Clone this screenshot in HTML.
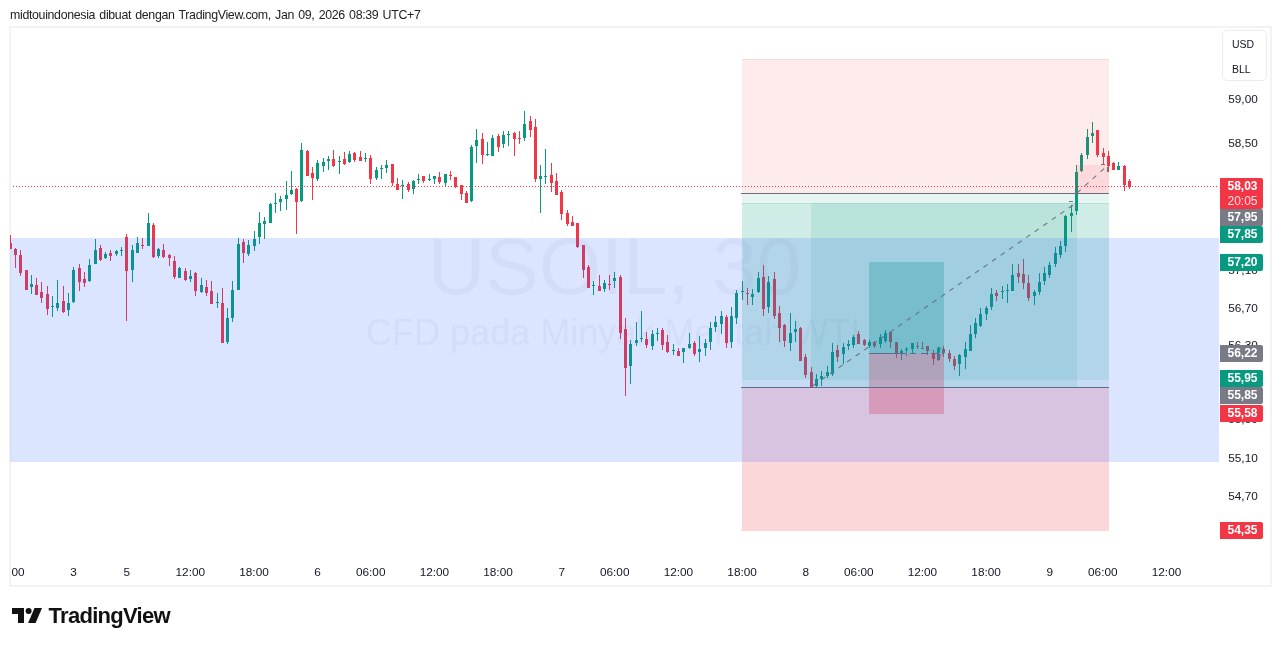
<!DOCTYPE html>
<html lang="id"><head><meta charset="utf-8"><title>USOIL 30 - TradingView</title>
<style>
html,body{margin:0;padding:0;background:#fff;}
body{width:1281px;height:646px;position:relative;overflow:hidden;font-family:"Liberation Sans",sans-serif;color:#131722;}
#hdr{position:absolute;left:10px;top:7px;font-size:12.4px;letter-spacing:-0.34px;word-spacing:1.1px;line-height:16px;white-space:nowrap;color:#222;}
#frame{position:absolute;left:9px;top:26px;width:1259px;height:557px;border:2px solid #f3f3f3;}
svg{position:absolute;left:0;top:0;}
.pl{position:absolute;left:1221.5px;width:43px;text-align:center;font-size:11.8px;line-height:14px;color:#131722;white-space:nowrap;}
.tag{position:absolute;left:1220px;width:41px;padding-left:2px;height:17px;line-height:17px;text-align:center;font-size:12px;font-weight:bold;color:#fff;border-radius:0 2px 2px 0;white-space:nowrap;}
.tl{position:absolute;top:565px;width:60px;margin-left:-30.7px;text-align:center;font-size:11.8px;line-height:14px;color:#131722;white-space:nowrap;}
#cur{position:absolute;left:1222px;top:30px;width:34px;padding-left:9px;height:49px;border:1px solid #ececec;border-radius:5px;font-size:10.5px;text-align:left;color:#131722;}
#cur div{height:25px;line-height:26px;}
#logo{position:absolute;left:48.6px;top:603.2px;font-size:22px;line-height:26px;font-weight:bold;color:#111;letter-spacing:-0.72px;white-space:nowrap;}
</style></head><body>
<div id="hdr">midtouindonesia dibuat dengan TradingView.com, Jan 09, 2026 08:39 UTC+7</div>
<div id="frame"></div>
<svg width="1281" height="646" viewBox="0 0 1281 646" shape-rendering="crispEdges">
<g font-family="Liberation Sans, sans-serif" fill="#787b86" fill-opacity="0.065" text-anchor="middle" shape-rendering="auto">
<text x="614.3" y="293.5" font-size="80">USOIL, 30</text>
<text x="613.2" y="344.5" font-size="36">CFD pada Minyak Mentah WTI</text>
</g>

<g id="candles">
<rect x="10" y="235" width="1" height="14" fill="#f23645"/>
<rect x="10" y="243" width="2" height="6" fill="#f23645"/>
<rect x="15" y="248" width="1" height="20" fill="#f23645"/>
<rect x="14" y="249" width="3" height="6" fill="#f23645"/>
<rect x="20" y="250" width="1" height="26" fill="#f23645"/>
<rect x="19" y="255" width="3" height="18" fill="#f23645"/>
<rect x="26" y="270" width="1" height="20" fill="#f23645"/>
<rect x="25" y="270" width="3" height="20" fill="#f23645"/>
<rect x="31" y="275" width="1" height="19" fill="#089981"/>
<rect x="30" y="284" width="3" height="3" fill="#089981"/>
<rect x="36" y="278" width="1" height="17" fill="#f23645"/>
<rect x="35" y="285" width="3" height="10" fill="#f23645"/>
<rect x="41" y="282" width="1" height="21" fill="#f23645"/>
<rect x="40" y="292" width="3" height="6" fill="#f23645"/>
<rect x="47" y="286" width="1" height="29" fill="#f23645"/>
<rect x="46" y="294" width="3" height="15" fill="#f23645"/>
<rect x="52" y="296" width="1" height="21" fill="#089981"/>
<rect x="51" y="306" width="3" height="1" fill="#089981"/>
<rect x="57" y="280" width="1" height="31" fill="#089981"/>
<rect x="56" y="303" width="3" height="5" fill="#089981"/>
<rect x="63" y="286" width="1" height="27" fill="#f23645"/>
<rect x="62" y="301" width="3" height="11" fill="#f23645"/>
<rect x="68" y="293" width="1" height="23" fill="#089981"/>
<rect x="67" y="303" width="3" height="7" fill="#089981"/>
<rect x="73" y="267" width="1" height="36" fill="#089981"/>
<rect x="72" y="270" width="3" height="32" fill="#089981"/>
<rect x="79" y="264" width="1" height="27" fill="#f23645"/>
<rect x="78" y="268" width="3" height="14" fill="#f23645"/>
<rect x="84" y="272" width="1" height="15" fill="#f23645"/>
<rect x="83" y="279" width="3" height="4" fill="#f23645"/>
<rect x="89" y="259" width="1" height="23" fill="#089981"/>
<rect x="88" y="265" width="3" height="16" fill="#089981"/>
<rect x="95" y="239" width="1" height="25" fill="#089981"/>
<rect x="94" y="250" width="3" height="14" fill="#089981"/>
<rect x="100" y="245" width="1" height="16" fill="#f23645"/>
<rect x="99" y="248" width="3" height="12" fill="#f23645"/>
<rect x="105" y="252" width="1" height="7" fill="#089981"/>
<rect x="104" y="254" width="3" height="4" fill="#089981"/>
<rect x="110" y="250" width="1" height="11" fill="#f23645"/>
<rect x="109" y="253" width="3" height="3" fill="#f23645"/>
<rect x="116" y="250" width="1" height="6" fill="#089981"/>
<rect x="115" y="251" width="3" height="3" fill="#089981"/>
<rect x="121" y="247" width="1" height="9" fill="#089981"/>
<rect x="120" y="250" width="3" height="1" fill="#089981"/>
<rect x="126" y="234" width="1" height="87" fill="#f23645"/>
<rect x="125" y="237" width="3" height="34" fill="#f23645"/>
<rect x="132" y="245" width="1" height="37" fill="#089981"/>
<rect x="131" y="250" width="3" height="20" fill="#089981"/>
<rect x="137" y="237" width="1" height="16" fill="#089981"/>
<rect x="136" y="243" width="3" height="10" fill="#089981"/>
<rect x="142" y="238" width="1" height="11" fill="#f23645"/>
<rect x="141" y="245" width="3" height="1" fill="#f23645"/>
<rect x="148" y="213" width="1" height="33" fill="#089981"/>
<rect x="147" y="223" width="3" height="23" fill="#089981"/>
<rect x="153" y="223" width="1" height="35" fill="#f23645"/>
<rect x="152" y="225" width="3" height="32" fill="#f23645"/>
<rect x="158" y="248" width="1" height="10" fill="#089981"/>
<rect x="157" y="249" width="3" height="7" fill="#089981"/>
<rect x="163" y="244" width="1" height="14" fill="#f23645"/>
<rect x="162" y="250" width="3" height="7" fill="#f23645"/>
<rect x="169" y="254" width="1" height="12" fill="#f23645"/>
<rect x="168" y="255" width="3" height="3" fill="#f23645"/>
<rect x="174" y="256" width="1" height="23" fill="#f23645"/>
<rect x="173" y="261" width="3" height="16" fill="#f23645"/>
<rect x="179" y="267" width="1" height="11" fill="#089981"/>
<rect x="178" y="268" width="3" height="10" fill="#089981"/>
<rect x="185" y="268" width="1" height="13" fill="#f23645"/>
<rect x="184" y="271" width="3" height="9" fill="#f23645"/>
<rect x="190" y="270" width="1" height="12" fill="#089981"/>
<rect x="189" y="276" width="3" height="3" fill="#089981"/>
<rect x="195" y="272" width="1" height="24" fill="#f23645"/>
<rect x="194" y="273" width="3" height="18" fill="#f23645"/>
<rect x="201" y="278" width="1" height="15" fill="#089981"/>
<rect x="200" y="285" width="3" height="7" fill="#089981"/>
<rect x="206" y="280" width="1" height="16" fill="#f23645"/>
<rect x="205" y="287" width="3" height="6" fill="#f23645"/>
<rect x="211" y="281" width="1" height="23" fill="#f23645"/>
<rect x="210" y="291" width="3" height="13" fill="#f23645"/>
<rect x="217" y="293" width="1" height="15" fill="#089981"/>
<rect x="216" y="302" width="3" height="1" fill="#089981"/>
<rect x="222" y="288" width="1" height="55" fill="#f23645"/>
<rect x="221" y="303" width="3" height="40" fill="#f23645"/>
<rect x="227" y="308" width="1" height="36" fill="#089981"/>
<rect x="226" y="318" width="3" height="24" fill="#089981"/>
<rect x="232" y="281" width="1" height="41" fill="#089981"/>
<rect x="231" y="290" width="3" height="28" fill="#089981"/>
<rect x="238" y="238" width="1" height="52" fill="#089981"/>
<rect x="237" y="244" width="3" height="46" fill="#089981"/>
<rect x="243" y="239" width="1" height="24" fill="#f23645"/>
<rect x="242" y="242" width="3" height="11" fill="#f23645"/>
<rect x="248" y="240" width="1" height="16" fill="#089981"/>
<rect x="247" y="245" width="3" height="9" fill="#089981"/>
<rect x="254" y="231" width="1" height="20" fill="#089981"/>
<rect x="253" y="239" width="3" height="7" fill="#089981"/>
<rect x="259" y="212" width="1" height="32" fill="#089981"/>
<rect x="258" y="223" width="3" height="14" fill="#089981"/>
<rect x="264" y="217" width="1" height="22" fill="#089981"/>
<rect x="263" y="221" width="3" height="3" fill="#089981"/>
<rect x="270" y="203" width="1" height="20" fill="#089981"/>
<rect x="269" y="204" width="3" height="19" fill="#089981"/>
<rect x="275" y="193" width="1" height="20" fill="#089981"/>
<rect x="274" y="203" width="3" height="1" fill="#089981"/>
<rect x="280" y="196" width="1" height="15" fill="#089981"/>
<rect x="279" y="199" width="3" height="3" fill="#089981"/>
<rect x="286" y="181" width="1" height="29" fill="#089981"/>
<rect x="285" y="195" width="3" height="4" fill="#089981"/>
<rect x="291" y="171" width="1" height="24" fill="#089981"/>
<rect x="290" y="190" width="3" height="4" fill="#089981"/>
<rect x="296" y="188" width="1" height="46" fill="#f23645"/>
<rect x="295" y="189" width="3" height="13" fill="#f23645"/>
<rect x="301" y="143" width="1" height="59" fill="#089981"/>
<rect x="300" y="150" width="3" height="51" fill="#089981"/>
<rect x="307" y="150" width="1" height="26" fill="#f23645"/>
<rect x="306" y="151" width="3" height="25" fill="#f23645"/>
<rect x="312" y="167" width="1" height="33" fill="#f23645"/>
<rect x="311" y="173" width="3" height="5" fill="#f23645"/>
<rect x="317" y="160" width="1" height="21" fill="#089981"/>
<rect x="316" y="163" width="3" height="16" fill="#089981"/>
<rect x="323" y="158" width="1" height="14" fill="#089981"/>
<rect x="322" y="162" width="3" height="4" fill="#089981"/>
<rect x="328" y="156" width="1" height="14" fill="#089981"/>
<rect x="327" y="159" width="3" height="2" fill="#089981"/>
<rect x="333" y="150" width="1" height="17" fill="#f23645"/>
<rect x="332" y="159" width="3" height="7" fill="#f23645"/>
<rect x="339" y="156" width="1" height="18" fill="#089981"/>
<rect x="338" y="161" width="3" height="1" fill="#089981"/>
<rect x="344" y="152" width="1" height="13" fill="#f23645"/>
<rect x="343" y="159" width="3" height="5" fill="#f23645"/>
<rect x="349" y="151" width="1" height="12" fill="#089981"/>
<rect x="348" y="154" width="3" height="8" fill="#089981"/>
<rect x="354" y="152" width="1" height="10" fill="#f23645"/>
<rect x="353" y="153" width="3" height="7" fill="#f23645"/>
<rect x="360" y="151" width="1" height="10" fill="#f23645"/>
<rect x="359" y="157" width="3" height="4" fill="#f23645"/>
<rect x="365" y="153" width="1" height="9" fill="#089981"/>
<rect x="364" y="158" width="3" height="1" fill="#089981"/>
<rect x="370" y="155" width="1" height="29" fill="#f23645"/>
<rect x="369" y="158" width="3" height="21" fill="#f23645"/>
<rect x="376" y="167" width="1" height="13" fill="#089981"/>
<rect x="375" y="170" width="3" height="8" fill="#089981"/>
<rect x="381" y="165" width="1" height="14" fill="#089981"/>
<rect x="380" y="168" width="3" height="1" fill="#089981"/>
<rect x="386" y="160" width="1" height="13" fill="#089981"/>
<rect x="385" y="165" width="3" height="3" fill="#089981"/>
<rect x="392" y="164" width="1" height="22" fill="#f23645"/>
<rect x="391" y="164" width="3" height="19" fill="#f23645"/>
<rect x="397" y="178" width="1" height="12" fill="#f23645"/>
<rect x="396" y="184" width="3" height="6" fill="#f23645"/>
<rect x="402" y="180" width="1" height="19" fill="#089981"/>
<rect x="401" y="185" width="3" height="1" fill="#089981"/>
<rect x="408" y="182" width="1" height="10" fill="#f23645"/>
<rect x="407" y="184" width="3" height="6" fill="#f23645"/>
<rect x="413" y="180" width="1" height="14" fill="#089981"/>
<rect x="412" y="181" width="3" height="8" fill="#089981"/>
<rect x="418" y="174" width="1" height="10" fill="#089981"/>
<rect x="417" y="179" width="3" height="1" fill="#089981"/>
<rect x="423" y="176" width="1" height="7" fill="#f23645"/>
<rect x="422" y="176" width="3" height="5" fill="#f23645"/>
<rect x="429" y="174" width="1" height="7" fill="#089981"/>
<rect x="428" y="179" width="3" height="1" fill="#089981"/>
<rect x="434" y="176" width="1" height="8" fill="#089981"/>
<rect x="433" y="176" width="3" height="3" fill="#089981"/>
<rect x="439" y="172" width="1" height="12" fill="#f23645"/>
<rect x="438" y="177" width="3" height="5" fill="#f23645"/>
<rect x="445" y="174" width="1" height="12" fill="#089981"/>
<rect x="444" y="174" width="3" height="9" fill="#089981"/>
<rect x="450" y="171" width="1" height="9" fill="#f23645"/>
<rect x="449" y="175" width="3" height="1" fill="#f23645"/>
<rect x="455" y="177" width="1" height="11" fill="#f23645"/>
<rect x="454" y="177" width="3" height="10" fill="#f23645"/>
<rect x="461" y="185" width="1" height="15" fill="#f23645"/>
<rect x="460" y="185" width="3" height="9" fill="#f23645"/>
<rect x="466" y="191" width="1" height="12" fill="#f23645"/>
<rect x="465" y="193" width="3" height="10" fill="#f23645"/>
<rect x="471" y="145" width="1" height="57" fill="#089981"/>
<rect x="470" y="147" width="3" height="54" fill="#089981"/>
<rect x="476" y="129" width="1" height="34" fill="#089981"/>
<rect x="475" y="140" width="3" height="6" fill="#089981"/>
<rect x="482" y="133" width="1" height="31" fill="#f23645"/>
<rect x="481" y="139" width="3" height="16" fill="#f23645"/>
<rect x="487" y="142" width="1" height="14" fill="#089981"/>
<rect x="486" y="154" width="3" height="1" fill="#089981"/>
<rect x="492" y="135" width="1" height="21" fill="#089981"/>
<rect x="491" y="138" width="3" height="18" fill="#089981"/>
<rect x="498" y="134" width="1" height="18" fill="#f23645"/>
<rect x="497" y="136" width="3" height="11" fill="#f23645"/>
<rect x="503" y="131" width="1" height="17" fill="#089981"/>
<rect x="502" y="135" width="3" height="9" fill="#089981"/>
<rect x="508" y="131" width="1" height="15" fill="#089981"/>
<rect x="507" y="134" width="3" height="1" fill="#089981"/>
<rect x="514" y="132" width="1" height="24" fill="#f23645"/>
<rect x="513" y="133" width="3" height="6" fill="#f23645"/>
<rect x="519" y="131" width="1" height="13" fill="#f23645"/>
<rect x="518" y="138" width="3" height="1" fill="#f23645"/>
<rect x="524" y="111" width="1" height="30" fill="#089981"/>
<rect x="523" y="124" width="3" height="14" fill="#089981"/>
<rect x="530" y="116" width="1" height="21" fill="#f23645"/>
<rect x="529" y="121" width="3" height="9" fill="#f23645"/>
<rect x="535" y="119" width="1" height="63" fill="#f23645"/>
<rect x="534" y="127" width="3" height="52" fill="#f23645"/>
<rect x="540" y="165" width="1" height="48" fill="#089981"/>
<rect x="539" y="176" width="3" height="3" fill="#089981"/>
<rect x="545" y="149" width="1" height="35" fill="#089981"/>
<rect x="544" y="176" width="3" height="1" fill="#089981"/>
<rect x="551" y="163" width="1" height="29" fill="#f23645"/>
<rect x="550" y="175" width="3" height="8" fill="#f23645"/>
<rect x="556" y="173" width="1" height="22" fill="#f23645"/>
<rect x="555" y="181" width="3" height="14" fill="#f23645"/>
<rect x="561" y="190" width="1" height="30" fill="#f23645"/>
<rect x="560" y="192" width="3" height="22" fill="#f23645"/>
<rect x="567" y="210" width="1" height="16" fill="#f23645"/>
<rect x="566" y="213" width="3" height="11" fill="#f23645"/>
<rect x="572" y="216" width="1" height="10" fill="#f23645"/>
<rect x="571" y="222" width="3" height="4" fill="#f23645"/>
<rect x="577" y="223" width="1" height="25" fill="#f23645"/>
<rect x="576" y="223" width="3" height="24" fill="#f23645"/>
<rect x="583" y="245" width="1" height="33" fill="#f23645"/>
<rect x="582" y="245" width="3" height="25" fill="#f23645"/>
<rect x="588" y="265" width="1" height="23" fill="#f23645"/>
<rect x="587" y="267" width="3" height="21" fill="#f23645"/>
<rect x="593" y="281" width="1" height="14" fill="#089981"/>
<rect x="592" y="285" width="3" height="1" fill="#089981"/>
<rect x="599" y="275" width="1" height="16" fill="#f23645"/>
<rect x="598" y="286" width="3" height="5" fill="#f23645"/>
<rect x="604" y="280" width="1" height="12" fill="#089981"/>
<rect x="603" y="283" width="3" height="6" fill="#089981"/>
<rect x="609" y="275" width="1" height="15" fill="#f23645"/>
<rect x="608" y="284" width="3" height="1" fill="#f23645"/>
<rect x="614" y="272" width="1" height="16" fill="#089981"/>
<rect x="613" y="278" width="3" height="3" fill="#089981"/>
<rect x="620" y="275" width="1" height="64" fill="#f23645"/>
<rect x="619" y="277" width="3" height="56" fill="#f23645"/>
<rect x="625" y="318" width="1" height="78" fill="#f23645"/>
<rect x="624" y="329" width="3" height="39" fill="#f23645"/>
<rect x="630" y="340" width="1" height="44" fill="#089981"/>
<rect x="629" y="344" width="3" height="22" fill="#089981"/>
<rect x="636" y="322" width="1" height="24" fill="#089981"/>
<rect x="635" y="340" width="3" height="3" fill="#089981"/>
<rect x="641" y="311" width="1" height="31" fill="#089981"/>
<rect x="640" y="338" width="3" height="1" fill="#089981"/>
<rect x="646" y="332" width="1" height="16" fill="#f23645"/>
<rect x="645" y="339" width="3" height="6" fill="#f23645"/>
<rect x="652" y="330" width="1" height="20" fill="#089981"/>
<rect x="651" y="334" width="3" height="12" fill="#089981"/>
<rect x="657" y="328" width="1" height="13" fill="#089981"/>
<rect x="656" y="333" width="3" height="1" fill="#089981"/>
<rect x="662" y="328" width="1" height="22" fill="#f23645"/>
<rect x="661" y="330" width="3" height="15" fill="#f23645"/>
<rect x="667" y="335" width="1" height="18" fill="#f23645"/>
<rect x="666" y="342" width="3" height="10" fill="#f23645"/>
<rect x="673" y="344" width="1" height="11" fill="#089981"/>
<rect x="672" y="350" width="3" height="1" fill="#089981"/>
<rect x="678" y="348" width="1" height="8" fill="#f23645"/>
<rect x="677" y="351" width="3" height="5" fill="#f23645"/>
<rect x="683" y="348" width="1" height="15" fill="#089981"/>
<rect x="682" y="348" width="3" height="4" fill="#089981"/>
<rect x="689" y="333" width="1" height="16" fill="#089981"/>
<rect x="688" y="344" width="3" height="4" fill="#089981"/>
<rect x="694" y="341" width="1" height="15" fill="#f23645"/>
<rect x="693" y="343" width="3" height="11" fill="#f23645"/>
<rect x="699" y="336" width="1" height="26" fill="#089981"/>
<rect x="698" y="349" width="3" height="3" fill="#089981"/>
<rect x="705" y="339" width="1" height="17" fill="#089981"/>
<rect x="704" y="343" width="3" height="5" fill="#089981"/>
<rect x="710" y="322" width="1" height="28" fill="#089981"/>
<rect x="709" y="328" width="3" height="14" fill="#089981"/>
<rect x="715" y="316" width="1" height="16" fill="#089981"/>
<rect x="714" y="322" width="3" height="5" fill="#089981"/>
<rect x="721" y="311" width="1" height="23" fill="#089981"/>
<rect x="720" y="316" width="3" height="8" fill="#089981"/>
<rect x="726" y="315" width="1" height="33" fill="#f23645"/>
<rect x="725" y="317" width="3" height="26" fill="#f23645"/>
<rect x="731" y="307" width="1" height="41" fill="#089981"/>
<rect x="730" y="316" width="3" height="26" fill="#089981"/>
<rect x="736" y="290" width="1" height="34" fill="#089981"/>
<rect x="735" y="293" width="3" height="25" fill="#089981"/>
<rect x="742" y="281" width="1" height="19" fill="#089981"/>
<rect x="741" y="291" width="3" height="1" fill="#089981"/>
<rect x="747" y="288" width="1" height="17" fill="#f23645"/>
<rect x="746" y="293" width="3" height="1" fill="#f23645"/>
<rect x="752" y="289" width="1" height="16" fill="#089981"/>
<rect x="751" y="294" width="3" height="3" fill="#089981"/>
<rect x="758" y="272" width="1" height="21" fill="#089981"/>
<rect x="757" y="278" width="3" height="14" fill="#089981"/>
<rect x="763" y="265" width="1" height="51" fill="#f23645"/>
<rect x="762" y="277" width="3" height="32" fill="#f23645"/>
<rect x="768" y="276" width="1" height="37" fill="#089981"/>
<rect x="767" y="282" width="3" height="25" fill="#089981"/>
<rect x="774" y="272" width="1" height="47" fill="#f23645"/>
<rect x="773" y="279" width="3" height="37" fill="#f23645"/>
<rect x="779" y="306" width="1" height="36" fill="#f23645"/>
<rect x="778" y="313" width="3" height="15" fill="#f23645"/>
<rect x="784" y="324" width="1" height="23" fill="#f23645"/>
<rect x="783" y="325" width="3" height="16" fill="#f23645"/>
<rect x="790" y="313" width="1" height="38" fill="#089981"/>
<rect x="789" y="333" width="3" height="10" fill="#089981"/>
<rect x="795" y="321" width="1" height="21" fill="#089981"/>
<rect x="794" y="329" width="3" height="3" fill="#089981"/>
<rect x="800" y="327" width="1" height="34" fill="#f23645"/>
<rect x="799" y="328" width="3" height="33" fill="#f23645"/>
<rect x="805" y="354" width="1" height="24" fill="#f23645"/>
<rect x="804" y="357" width="3" height="18" fill="#f23645"/>
<rect x="811" y="367" width="1" height="20" fill="#f23645"/>
<rect x="810" y="372" width="3" height="15" fill="#f23645"/>
<rect x="816" y="374" width="1" height="13" fill="#089981"/>
<rect x="815" y="379" width="3" height="7" fill="#089981"/>
<rect x="821" y="371" width="1" height="15" fill="#089981"/>
<rect x="820" y="376" width="3" height="3" fill="#089981"/>
<rect x="827" y="366" width="1" height="12" fill="#089981"/>
<rect x="826" y="372" width="3" height="4" fill="#089981"/>
<rect x="832" y="343" width="1" height="33" fill="#089981"/>
<rect x="831" y="352" width="3" height="22" fill="#089981"/>
<rect x="837" y="345" width="1" height="17" fill="#f23645"/>
<rect x="836" y="350" width="3" height="7" fill="#f23645"/>
<rect x="843" y="343" width="1" height="21" fill="#089981"/>
<rect x="842" y="347" width="3" height="7" fill="#089981"/>
<rect x="848" y="340" width="1" height="10" fill="#089981"/>
<rect x="847" y="344" width="3" height="2" fill="#089981"/>
<rect x="853" y="335" width="1" height="13" fill="#089981"/>
<rect x="852" y="337" width="3" height="8" fill="#089981"/>
<rect x="858" y="331" width="1" height="13" fill="#f23645"/>
<rect x="857" y="334" width="3" height="10" fill="#f23645"/>
<rect x="864" y="339" width="1" height="7" fill="#f23645"/>
<rect x="863" y="340" width="3" height="5" fill="#f23645"/>
<rect x="869" y="340" width="1" height="8" fill="#089981"/>
<rect x="868" y="342" width="3" height="4" fill="#089981"/>
<rect x="874" y="341" width="1" height="7" fill="#f23645"/>
<rect x="873" y="342" width="3" height="4" fill="#f23645"/>
<rect x="880" y="334" width="1" height="14" fill="#089981"/>
<rect x="879" y="337" width="3" height="7" fill="#089981"/>
<rect x="885" y="330" width="1" height="13" fill="#089981"/>
<rect x="884" y="333" width="3" height="8" fill="#089981"/>
<rect x="890" y="332" width="1" height="16" fill="#f23645"/>
<rect x="889" y="332" width="3" height="10" fill="#f23645"/>
<rect x="896" y="342" width="1" height="16" fill="#f23645"/>
<rect x="895" y="342" width="3" height="11" fill="#f23645"/>
<rect x="901" y="349" width="1" height="11" fill="#089981"/>
<rect x="900" y="351" width="3" height="2" fill="#089981"/>
<rect x="906" y="347" width="1" height="9" fill="#089981"/>
<rect x="905" y="349" width="3" height="1" fill="#089981"/>
<rect x="912" y="343" width="1" height="10" fill="#089981"/>
<rect x="911" y="343" width="3" height="6" fill="#089981"/>
<rect x="917" y="342" width="1" height="7" fill="#f23645"/>
<rect x="916" y="346" width="3" height="1" fill="#f23645"/>
<rect x="922" y="342" width="1" height="7" fill="#f23645"/>
<rect x="921" y="348" width="3" height="1" fill="#f23645"/>
<rect x="927" y="346" width="1" height="9" fill="#f23645"/>
<rect x="926" y="346" width="3" height="5" fill="#f23645"/>
<rect x="933" y="350" width="1" height="15" fill="#f23645"/>
<rect x="932" y="354" width="3" height="5" fill="#f23645"/>
<rect x="938" y="347" width="1" height="14" fill="#089981"/>
<rect x="937" y="348" width="3" height="12" fill="#089981"/>
<rect x="943" y="346" width="1" height="11" fill="#f23645"/>
<rect x="942" y="349" width="3" height="4" fill="#f23645"/>
<rect x="949" y="350" width="1" height="12" fill="#f23645"/>
<rect x="948" y="353" width="3" height="6" fill="#f23645"/>
<rect x="954" y="356" width="1" height="14" fill="#f23645"/>
<rect x="953" y="359" width="3" height="7" fill="#f23645"/>
<rect x="959" y="354" width="1" height="22" fill="#089981"/>
<rect x="958" y="355" width="3" height="9" fill="#089981"/>
<rect x="965" y="342" width="1" height="27" fill="#089981"/>
<rect x="964" y="349" width="3" height="8" fill="#089981"/>
<rect x="970" y="325" width="1" height="26" fill="#089981"/>
<rect x="969" y="334" width="3" height="17" fill="#089981"/>
<rect x="975" y="318" width="1" height="20" fill="#089981"/>
<rect x="974" y="323" width="3" height="11" fill="#089981"/>
<rect x="980" y="308" width="1" height="19" fill="#089981"/>
<rect x="979" y="314" width="3" height="12" fill="#089981"/>
<rect x="986" y="306" width="1" height="14" fill="#089981"/>
<rect x="985" y="308" width="3" height="6" fill="#089981"/>
<rect x="991" y="288" width="1" height="22" fill="#089981"/>
<rect x="990" y="294" width="3" height="13" fill="#089981"/>
<rect x="996" y="290" width="1" height="11" fill="#f23645"/>
<rect x="995" y="293" width="3" height="3" fill="#f23645"/>
<rect x="1002" y="286" width="1" height="13" fill="#089981"/>
<rect x="1001" y="291" width="3" height="1" fill="#089981"/>
<rect x="1007" y="284" width="1" height="19" fill="#089981"/>
<rect x="1006" y="290" width="3" height="1" fill="#089981"/>
<rect x="1012" y="264" width="1" height="27" fill="#089981"/>
<rect x="1011" y="275" width="3" height="16" fill="#089981"/>
<rect x="1018" y="264" width="1" height="19" fill="#f23645"/>
<rect x="1017" y="273" width="3" height="4" fill="#f23645"/>
<rect x="1023" y="259" width="1" height="30" fill="#f23645"/>
<rect x="1022" y="274" width="3" height="9" fill="#f23645"/>
<rect x="1028" y="275" width="1" height="26" fill="#f23645"/>
<rect x="1027" y="283" width="3" height="15" fill="#f23645"/>
<rect x="1034" y="290" width="1" height="15" fill="#089981"/>
<rect x="1033" y="292" width="3" height="4" fill="#089981"/>
<rect x="1039" y="273" width="1" height="22" fill="#089981"/>
<rect x="1038" y="282" width="3" height="10" fill="#089981"/>
<rect x="1044" y="267" width="1" height="18" fill="#089981"/>
<rect x="1043" y="273" width="3" height="8" fill="#089981"/>
<rect x="1049" y="262" width="1" height="16" fill="#089981"/>
<rect x="1048" y="265" width="3" height="10" fill="#089981"/>
<rect x="1055" y="247" width="1" height="20" fill="#089981"/>
<rect x="1054" y="253" width="3" height="11" fill="#089981"/>
<rect x="1060" y="241" width="1" height="17" fill="#089981"/>
<rect x="1059" y="246" width="3" height="9" fill="#089981"/>
<rect x="1065" y="215" width="1" height="37" fill="#089981"/>
<rect x="1064" y="216" width="3" height="30" fill="#089981"/>
<rect x="1071" y="205" width="1" height="27" fill="#089981"/>
<rect x="1070" y="213" width="3" height="3" fill="#089981"/>
<rect x="1076" y="165" width="1" height="50" fill="#089981"/>
<rect x="1075" y="172" width="3" height="39" fill="#089981"/>
<rect x="1081" y="153" width="1" height="19" fill="#089981"/>
<rect x="1080" y="155" width="3" height="16" fill="#089981"/>
<rect x="1087" y="129" width="1" height="30" fill="#089981"/>
<rect x="1086" y="137" width="3" height="18" fill="#089981"/>
<rect x="1092" y="122" width="1" height="21" fill="#089981"/>
<rect x="1091" y="133" width="3" height="3" fill="#089981"/>
<rect x="1097" y="130" width="1" height="27" fill="#f23645"/>
<rect x="1096" y="130" width="3" height="25" fill="#f23645"/>
<rect x="1103" y="148" width="1" height="16" fill="#f23645"/>
<rect x="1102" y="153" width="3" height="4" fill="#f23645"/>
<rect x="1108" y="151" width="1" height="21" fill="#f23645"/>
<rect x="1107" y="156" width="3" height="10" fill="#f23645"/>
<rect x="1113" y="162" width="1" height="8" fill="#f23645"/>
<rect x="1112" y="163" width="3" height="7" fill="#f23645"/>
<rect x="1118" y="162" width="1" height="8" fill="#089981"/>
<rect x="1117" y="166" width="3" height="4" fill="#089981"/>
<rect x="1124" y="165" width="1" height="26" fill="#f23645"/>
<rect x="1123" y="166" width="3" height="19" fill="#f23645"/>
<rect x="1129" y="179" width="1" height="10" fill="#f23645"/>
<rect x="1128" y="181" width="3" height="6" fill="#f23645"/>
</g>
<g fill="#f23645">
<path d="M13 186h1v1h-1zM16 186h1v1h-1zM19 186h1v1h-1zM22 186h1v1h-1zM25 186h1v1h-1zM28 186h1v1h-1zM31 186h1v1h-1zM34 186h1v1h-1zM37 186h1v1h-1zM40 186h1v1h-1zM43 186h1v1h-1zM46 186h1v1h-1zM49 186h1v1h-1zM52 186h1v1h-1zM55 186h1v1h-1zM58 186h1v1h-1zM61 186h1v1h-1zM64 186h1v1h-1zM67 186h1v1h-1zM70 186h1v1h-1zM73 186h1v1h-1zM76 186h1v1h-1zM79 186h1v1h-1zM82 186h1v1h-1zM85 186h1v1h-1zM88 186h1v1h-1zM91 186h1v1h-1zM94 186h1v1h-1zM97 186h1v1h-1zM100 186h1v1h-1zM103 186h1v1h-1zM106 186h1v1h-1zM109 186h1v1h-1zM112 186h1v1h-1zM115 186h1v1h-1zM118 186h1v1h-1zM121 186h1v1h-1zM124 186h1v1h-1zM127 186h1v1h-1zM130 186h1v1h-1zM133 186h1v1h-1zM136 186h1v1h-1zM139 186h1v1h-1zM142 186h1v1h-1zM145 186h1v1h-1zM148 186h1v1h-1zM151 186h1v1h-1zM154 186h1v1h-1zM157 186h1v1h-1zM160 186h1v1h-1zM163 186h1v1h-1zM166 186h1v1h-1zM169 186h1v1h-1zM172 186h1v1h-1zM175 186h1v1h-1zM178 186h1v1h-1zM181 186h1v1h-1zM184 186h1v1h-1zM187 186h1v1h-1zM190 186h1v1h-1zM193 186h1v1h-1zM196 186h1v1h-1zM199 186h1v1h-1zM202 186h1v1h-1zM205 186h1v1h-1zM208 186h1v1h-1zM211 186h1v1h-1zM214 186h1v1h-1zM217 186h1v1h-1zM220 186h1v1h-1zM223 186h1v1h-1zM226 186h1v1h-1zM229 186h1v1h-1zM232 186h1v1h-1zM235 186h1v1h-1zM238 186h1v1h-1zM241 186h1v1h-1zM244 186h1v1h-1zM247 186h1v1h-1zM250 186h1v1h-1zM253 186h1v1h-1zM256 186h1v1h-1zM259 186h1v1h-1zM262 186h1v1h-1zM265 186h1v1h-1zM268 186h1v1h-1zM271 186h1v1h-1zM274 186h1v1h-1zM277 186h1v1h-1zM280 186h1v1h-1zM283 186h1v1h-1zM286 186h1v1h-1zM289 186h1v1h-1zM292 186h1v1h-1zM295 186h1v1h-1zM298 186h1v1h-1zM301 186h1v1h-1zM304 186h1v1h-1zM307 186h1v1h-1zM310 186h1v1h-1zM313 186h1v1h-1zM316 186h1v1h-1zM319 186h1v1h-1zM322 186h1v1h-1zM325 186h1v1h-1zM328 186h1v1h-1zM331 186h1v1h-1zM334 186h1v1h-1zM337 186h1v1h-1zM340 186h1v1h-1zM343 186h1v1h-1zM346 186h1v1h-1zM349 186h1v1h-1zM352 186h1v1h-1zM355 186h1v1h-1zM358 186h1v1h-1zM361 186h1v1h-1zM364 186h1v1h-1zM367 186h1v1h-1zM370 186h1v1h-1zM373 186h1v1h-1zM376 186h1v1h-1zM379 186h1v1h-1zM382 186h1v1h-1zM385 186h1v1h-1zM388 186h1v1h-1zM391 186h1v1h-1zM394 186h1v1h-1zM397 186h1v1h-1zM400 186h1v1h-1zM403 186h1v1h-1zM406 186h1v1h-1zM409 186h1v1h-1zM412 186h1v1h-1zM415 186h1v1h-1zM418 186h1v1h-1zM421 186h1v1h-1zM424 186h1v1h-1zM427 186h1v1h-1zM430 186h1v1h-1zM433 186h1v1h-1zM436 186h1v1h-1zM439 186h1v1h-1zM442 186h1v1h-1zM445 186h1v1h-1zM448 186h1v1h-1zM451 186h1v1h-1zM454 186h1v1h-1zM457 186h1v1h-1zM460 186h1v1h-1zM463 186h1v1h-1zM466 186h1v1h-1zM469 186h1v1h-1zM472 186h1v1h-1zM475 186h1v1h-1zM478 186h1v1h-1zM481 186h1v1h-1zM484 186h1v1h-1zM487 186h1v1h-1zM490 186h1v1h-1zM493 186h1v1h-1zM496 186h1v1h-1zM499 186h1v1h-1zM502 186h1v1h-1zM505 186h1v1h-1zM508 186h1v1h-1zM511 186h1v1h-1zM514 186h1v1h-1zM517 186h1v1h-1zM520 186h1v1h-1zM523 186h1v1h-1zM526 186h1v1h-1zM529 186h1v1h-1zM532 186h1v1h-1zM535 186h1v1h-1zM538 186h1v1h-1zM541 186h1v1h-1zM544 186h1v1h-1zM547 186h1v1h-1zM550 186h1v1h-1zM553 186h1v1h-1zM556 186h1v1h-1zM559 186h1v1h-1zM562 186h1v1h-1zM565 186h1v1h-1zM568 186h1v1h-1zM571 186h1v1h-1zM574 186h1v1h-1zM577 186h1v1h-1zM580 186h1v1h-1zM583 186h1v1h-1zM586 186h1v1h-1zM589 186h1v1h-1zM592 186h1v1h-1zM595 186h1v1h-1zM598 186h1v1h-1zM601 186h1v1h-1zM604 186h1v1h-1zM607 186h1v1h-1zM610 186h1v1h-1zM613 186h1v1h-1zM616 186h1v1h-1zM619 186h1v1h-1zM622 186h1v1h-1zM625 186h1v1h-1zM628 186h1v1h-1zM631 186h1v1h-1zM634 186h1v1h-1zM637 186h1v1h-1zM640 186h1v1h-1zM643 186h1v1h-1zM646 186h1v1h-1zM649 186h1v1h-1zM652 186h1v1h-1zM655 186h1v1h-1zM658 186h1v1h-1zM661 186h1v1h-1zM664 186h1v1h-1zM667 186h1v1h-1zM670 186h1v1h-1zM673 186h1v1h-1zM676 186h1v1h-1zM679 186h1v1h-1zM682 186h1v1h-1zM685 186h1v1h-1zM688 186h1v1h-1zM691 186h1v1h-1zM694 186h1v1h-1zM697 186h1v1h-1zM700 186h1v1h-1zM703 186h1v1h-1zM706 186h1v1h-1zM709 186h1v1h-1zM712 186h1v1h-1zM715 186h1v1h-1zM718 186h1v1h-1zM721 186h1v1h-1zM724 186h1v1h-1zM727 186h1v1h-1zM730 186h1v1h-1zM733 186h1v1h-1zM736 186h1v1h-1zM739 186h1v1h-1zM742 186h1v1h-1zM745 186h1v1h-1zM748 186h1v1h-1zM751 186h1v1h-1zM754 186h1v1h-1zM757 186h1v1h-1zM760 186h1v1h-1zM763 186h1v1h-1zM766 186h1v1h-1zM769 186h1v1h-1zM772 186h1v1h-1zM775 186h1v1h-1zM778 186h1v1h-1zM781 186h1v1h-1zM784 186h1v1h-1zM787 186h1v1h-1zM790 186h1v1h-1zM793 186h1v1h-1zM796 186h1v1h-1zM799 186h1v1h-1zM802 186h1v1h-1zM805 186h1v1h-1zM808 186h1v1h-1zM811 186h1v1h-1zM814 186h1v1h-1zM817 186h1v1h-1zM820 186h1v1h-1zM823 186h1v1h-1zM826 186h1v1h-1zM829 186h1v1h-1zM832 186h1v1h-1zM835 186h1v1h-1zM838 186h1v1h-1zM841 186h1v1h-1zM844 186h1v1h-1zM847 186h1v1h-1zM850 186h1v1h-1zM853 186h1v1h-1zM856 186h1v1h-1zM859 186h1v1h-1zM862 186h1v1h-1zM865 186h1v1h-1zM868 186h1v1h-1zM871 186h1v1h-1zM874 186h1v1h-1zM877 186h1v1h-1zM880 186h1v1h-1zM883 186h1v1h-1zM886 186h1v1h-1zM889 186h1v1h-1zM892 186h1v1h-1zM895 186h1v1h-1zM898 186h1v1h-1zM901 186h1v1h-1zM904 186h1v1h-1zM907 186h1v1h-1zM910 186h1v1h-1zM913 186h1v1h-1zM916 186h1v1h-1zM919 186h1v1h-1zM922 186h1v1h-1zM925 186h1v1h-1zM928 186h1v1h-1zM931 186h1v1h-1zM934 186h1v1h-1zM937 186h1v1h-1zM940 186h1v1h-1zM943 186h1v1h-1zM946 186h1v1h-1zM949 186h1v1h-1zM952 186h1v1h-1zM955 186h1v1h-1zM958 186h1v1h-1zM961 186h1v1h-1zM964 186h1v1h-1zM967 186h1v1h-1zM970 186h1v1h-1zM973 186h1v1h-1zM976 186h1v1h-1zM979 186h1v1h-1zM982 186h1v1h-1zM985 186h1v1h-1zM988 186h1v1h-1zM991 186h1v1h-1zM994 186h1v1h-1zM997 186h1v1h-1zM1000 186h1v1h-1zM1003 186h1v1h-1zM1006 186h1v1h-1zM1009 186h1v1h-1zM1012 186h1v1h-1zM1015 186h1v1h-1zM1018 186h1v1h-1zM1021 186h1v1h-1zM1024 186h1v1h-1zM1027 186h1v1h-1zM1030 186h1v1h-1zM1033 186h1v1h-1zM1036 186h1v1h-1zM1039 186h1v1h-1zM1042 186h1v1h-1zM1045 186h1v1h-1zM1048 186h1v1h-1zM1051 186h1v1h-1zM1054 186h1v1h-1zM1057 186h1v1h-1zM1060 186h1v1h-1zM1063 186h1v1h-1zM1066 186h1v1h-1zM1069 186h1v1h-1zM1072 186h1v1h-1zM1075 186h1v1h-1zM1078 186h1v1h-1zM1081 186h1v1h-1zM1084 186h1v1h-1zM1087 186h1v1h-1zM1090 186h1v1h-1zM1093 186h1v1h-1zM1096 186h1v1h-1zM1099 186h1v1h-1zM1102 186h1v1h-1zM1105 186h1v1h-1zM1108 186h1v1h-1zM1111 186h1v1h-1zM1114 186h1v1h-1zM1117 186h1v1h-1zM1120 186h1v1h-1zM1123 186h1v1h-1zM1126 186h1v1h-1zM1129 186h1v1h-1zM1132 186h1v1h-1zM1135 186h1v1h-1zM1138 186h1v1h-1zM1141 186h1v1h-1zM1144 186h1v1h-1zM1147 186h1v1h-1zM1150 186h1v1h-1zM1153 186h1v1h-1zM1156 186h1v1h-1zM1159 186h1v1h-1zM1162 186h1v1h-1zM1165 186h1v1h-1zM1168 186h1v1h-1zM1171 186h1v1h-1zM1174 186h1v1h-1zM1177 186h1v1h-1zM1180 186h1v1h-1zM1183 186h1v1h-1zM1186 186h1v1h-1zM1189 186h1v1h-1zM1192 186h1v1h-1zM1195 186h1v1h-1zM1198 186h1v1h-1zM1201 186h1v1h-1zM1204 186h1v1h-1zM1207 186h1v1h-1zM1210 186h1v1h-1zM1213 186h1v1h-1zM1216 186h1v1h-1z"/>
</g>
<g id="tools">
<rect x="742" y="59" width="367" height="134" fill="#f23645" fill-opacity="0.1"/>
<rect x="742" y="193" width="367" height="186" fill="#089981" fill-opacity="0.1"/>
<rect x="1077" y="165" width="32" height="28" fill="#f23645" fill-opacity="0.1"/>
<rect x="742" y="203" width="367" height="184" fill="#089981" fill-opacity="0.1"/>
<rect x="741" y="203" width="368" height="1" fill="#089981" fill-opacity="0.12"/>
<rect x="742" y="59" width="367" height="1" fill="#f23645" fill-opacity="0.12"/>
<rect x="741" y="530" width="368" height="1" fill="#f23645" fill-opacity="0.2"/>
<rect x="742" y="379" width="367" height="1" fill="#089981" fill-opacity="0.1"/>
<rect x="811" y="203" width="266" height="184" fill="#089981" fill-opacity="0.1"/>
<rect x="742" y="387" width="367" height="143" fill="#f23645" fill-opacity="0.2"/>
<rect x="869" y="262" width="75" height="91" fill="#089981" fill-opacity="0.28"/>
<rect x="869" y="353" width="75" height="61" fill="#f23645" fill-opacity="0.3"/>
<rect x="869" y="353" width="75" height="1" fill="#6a6d78"/>
<path d="M906 353.5h4M916 353.5h5M928 353.5h3M939 353.5h3" stroke="#a9b4c4" stroke-width="1" fill="none"/>
<rect x="741" y="193" width="368" height="1" fill="#6a6d78"/>
<rect x="741" y="387" width="368" height="1" fill="#6a6d78"/>
<g stroke="#73767f" stroke-width="1.1" fill="none" shape-rendering="auto">
<path d="M811 387L1076 203" stroke-dasharray="5 5.38" stroke-dashoffset="-2.4"/>
<path d="M1069 201.5h4M1075.5 204v5"/>
<path d="M1077 193L1108 165" stroke-dasharray="5 5.5"/>
<path d="M1101 164.5h4M1107.5 167v5"/>
<path d="M938 346.6L941 348.8M938 356.8L941.5 354.8" stroke-opacity="0.8"/>
</g>
<rect x="10" y="238" width="1209" height="224" fill="#2962ff" fill-opacity="0.17"/>
</g>
</svg>

<div class="pl" style="top:92px">59,00</div>
<div class="pl" style="top:136px">58,50</div>
<div class="pl" style="top:263px">57,10</div>
<div class="pl" style="top:301px">56,70</div>
<div class="pl" style="top:338px">56,30</div>
<div class="pl" style="top:412px">55,50</div>
<div class="pl" style="top:451px">55,10</div>
<div class="pl" style="top:489px">54,70</div>
<div class="tag" style="top:178px;background:#f23645;height:31px;line-height:15px"><div style="padding-top:1px">58,03</div><div style="font-weight:normal;opacity:.85">20:05</div></div>
<div class="tag" style="top:209px;background:#787b86;height:17px">57,95</div>
<div class="tag" style="top:226px;background:#089981;height:17px">57,85</div>
<div class="tag" style="top:254px;background:#089981;height:17px">57,20</div>
<div class="tag" style="top:345px;background:#787b86;height:17px">56,22</div>
<div class="tag" style="top:370px;background:#089981;height:17px">55,95</div>
<div class="tag" style="top:387px;background:#787b86;height:17px">55,85</div>
<div class="tag" style="top:405px;background:#f23645;height:17px">55,58</div>
<div class="tag" style="top:522px;background:#f23645;height:17px">54,35</div>
<div id="cur"><div>USD</div><div>BLL</div></div>
<div style="position:absolute;left:11px;top:558px;width:1208px;height:26px;overflow:hidden">
<div class="tl" style="left:-0.4px;top:7px">18:00</div>
<div class="tl" style="left:63.3px;top:7px">3</div>
<div class="tl" style="left:116.4px;top:7px">5</div>
<div class="tl" style="left:180.0px;top:7px">12:00</div>
<div class="tl" style="left:243.7px;top:7px">18:00</div>
<div class="tl" style="left:307.3px;top:7px">6</div>
<div class="tl" style="left:360.4px;top:7px">06:00</div>
<div class="tl" style="left:424.1px;top:7px">12:00</div>
<div class="tl" style="left:487.7px;top:7px">18:00</div>
<div class="tl" style="left:551.4px;top:7px">7</div>
<div class="tl" style="left:604.4px;top:7px">06:00</div>
<div class="tl" style="left:668.1px;top:7px">12:00</div>
<div class="tl" style="left:731.8px;top:7px">18:00</div>
<div class="tl" style="left:795.4px;top:7px">8</div>
<div class="tl" style="left:848.5px;top:7px">06:00</div>
<div class="tl" style="left:912.1px;top:7px">12:00</div>
<div class="tl" style="left:975.8px;top:7px">18:00</div>
<div class="tl" style="left:1039.5px;top:7px">9</div>
<div class="tl" style="left:1092.5px;top:7px">06:00</div>
<div class="tl" style="left:1156.2px;top:7px">12:00</div>
</div>
<svg style="left:12px;top:608px" width="30" height="15" viewBox="0 0 30 15"><path fill="#111" d="M0 0h12v15H6V6H0z"/><circle cx="16.6" cy="3" r="3" fill="#111"/><path fill="#111" d="M22.5 0H30l-6.4 15h-7.5z"/></svg>
<div id="logo">TradingView</div>
</body></html>
